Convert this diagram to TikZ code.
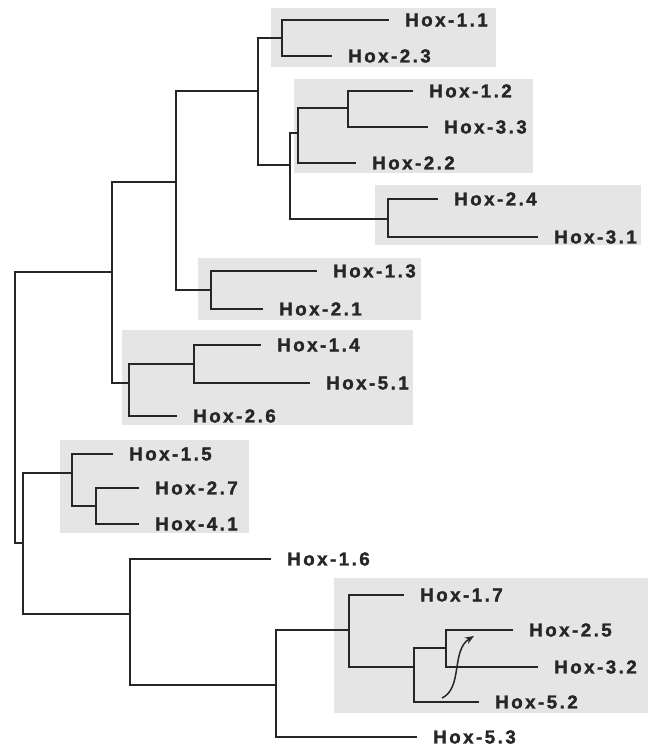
\documentclass[tikz,border=0pt]{standalone}
\usepackage{fontspec}
\usepackage{tikz}
\usetikzlibrary{arrows.meta}
\newfontfamily\hoxfont{Liberation Sans Bold}[LetterSpace=13, FakeBold=1.6]
\definecolor{ink}{HTML}{262626}
\definecolor{shade}{HTML}{E5E5E5}

\begin{document}
\begin{tikzpicture}[x=1pt, y=-1pt,
  leaf/.style  = {anchor=west, inner xsep=17pt, inner ysep=0pt, text=ink, font=\hoxfont\fontsize{18.8}{20}\selectfont},
  clade/.style = {fill=shade},
  br/.style    = {draw=ink, line width=1.6pt, line cap=rect},
  arr/.style   = {-{Stealth[length=9pt,width=7pt]}, draw=ink, line width=1.5pt},
]
\useasboundingbox (0,0) rectangle (648,746);
\fill[clade] (271,8) rectangle (496,67);
\fill[clade] (294,79) rectangle (533,173);
\fill[clade] (375,185) rectangle (641,245);
\fill[clade] (198,258) rectangle (421,320);
\fill[clade] (122,330) rectangle (413,425);
\fill[clade] (60,440) rectangle (249,533);
\fill[clade] (334,578) rectangle (648,713);
\coordinate (root) at (15,407);
\coordinate (nI) at (112,272);
\coordinate (nG) at (176,182);
\coordinate (nB) at (258,91);
\coordinate (nA) at (282,38);
\coordinate (nC) at (290,165);
\coordinate (nD) at (298,133);
\coordinate (nF) at (348,108);
\coordinate (nE) at (388,219);
\coordinate (nH) at (211,290);
\coordinate (nJ) at (129,383);
\coordinate (nK) at (194,364);
\coordinate (nL) at (23,543);
\coordinate (nM) at (72,473);
\coordinate (nO) at (96,506);
\coordinate (nN) at (130,614);
\coordinate (nP) at (276,685);
\coordinate (nQ) at (349,630);
\coordinate (nS) at (414,667);
\coordinate (nT) at (446,648);
\node[leaf] (h11) at (388,20) {Hox-1.1};
\node[leaf] (h23) at (331,56) {Hox-2.3};
\node[leaf] (h12) at (412,91) {Hox-1.2};
\node[leaf] (h33) at (427,127) {Hox-3.3};
\node[leaf] (h22) at (355,163) {Hox-2.2};
\node[leaf] (h24) at (437,199) {Hox-2.4};
\node[leaf] (h31) at (537,237) {Hox-3.1};
\node[leaf] (h13) at (316,271) {Hox-1.3};
\node[leaf] (h21) at (262,309) {Hox-2.1};
\node[leaf] (h14) at (260,345) {Hox-1.4};
\node[leaf] (h51) at (309,383) {Hox-5.1};
\node[leaf] (h26) at (176,416) {Hox-2.6};
\node[leaf] (h15) at (112,454) {Hox-1.5};
\node[leaf] (h27) at (138,488) {Hox-2.7};
\node[leaf] (h41) at (138,524) {Hox-4.1};
\node[leaf] (h16) at (270,559) {Hox-1.6};
\node[leaf] (h17) at (403,595) {Hox-1.7};
\node[leaf] (h25) at (512,630) {Hox-2.5};
\node[leaf] (h32) at (537,667) {Hox-3.2};
\node[leaf] (h52) at (478,702) {Hox-5.2};
\node[leaf] (h53) at (416,737) {Hox-5.3};
\draw[br] (root) |- (nI);
\draw[br] (root) |- (nL);
\draw[br] (nI) |- (nG);
\draw[br] (nI) |- (nJ);
\draw[br] (nG) |- (nB);
\draw[br] (nG) |- (nH);
\draw[br] (nB) |- (nA);
\draw[br] (nB) |- (nC);
\draw[br] (nA) |- (h11);
\draw[br] (nA) |- (h23);
\draw[br] (nC) |- (nD);
\draw[br] (nC) |- (nE);
\draw[br] (nD) |- (nF);
\draw[br] (nD) |- (h22);
\draw[br] (nF) |- (h12);
\draw[br] (nF) |- (h33);
\draw[br] (nE) |- (h24);
\draw[br] (nE) |- (h31);
\draw[br] (nH) |- (h13);
\draw[br] (nH) |- (h21);
\draw[br] (nJ) |- (nK);
\draw[br] (nJ) |- (h26);
\draw[br] (nK) |- (h14);
\draw[br] (nK) |- (h51);
\draw[br] (nL) |- (nM);
\draw[br] (nL) |- (nN);
\draw[br] (nM) |- (h15);
\draw[br] (nM) |- (nO);
\draw[br] (nO) |- (h27);
\draw[br] (nO) |- (h41);
\draw[br] (nN) |- (h16);
\draw[br] (nN) |- (nP);
\draw[br] (nP) |- (nQ);
\draw[br] (nP) |- (h53);
\draw[br] (nQ) |- (h17);
\draw[br] (nQ) |- (nS);
\draw[br] (nS) |- (nT);
\draw[br] (nS) |- (h52);
\draw[br] (nT) |- (h25);
\draw[br] (nT) |- (h32);
\coordinate (move0) at (442,698);
\coordinate (move1) at (474,636);
\draw[arr] (move0) .. controls (463,688) and (451,650) .. (move1);
\end{tikzpicture}
\end{document}
